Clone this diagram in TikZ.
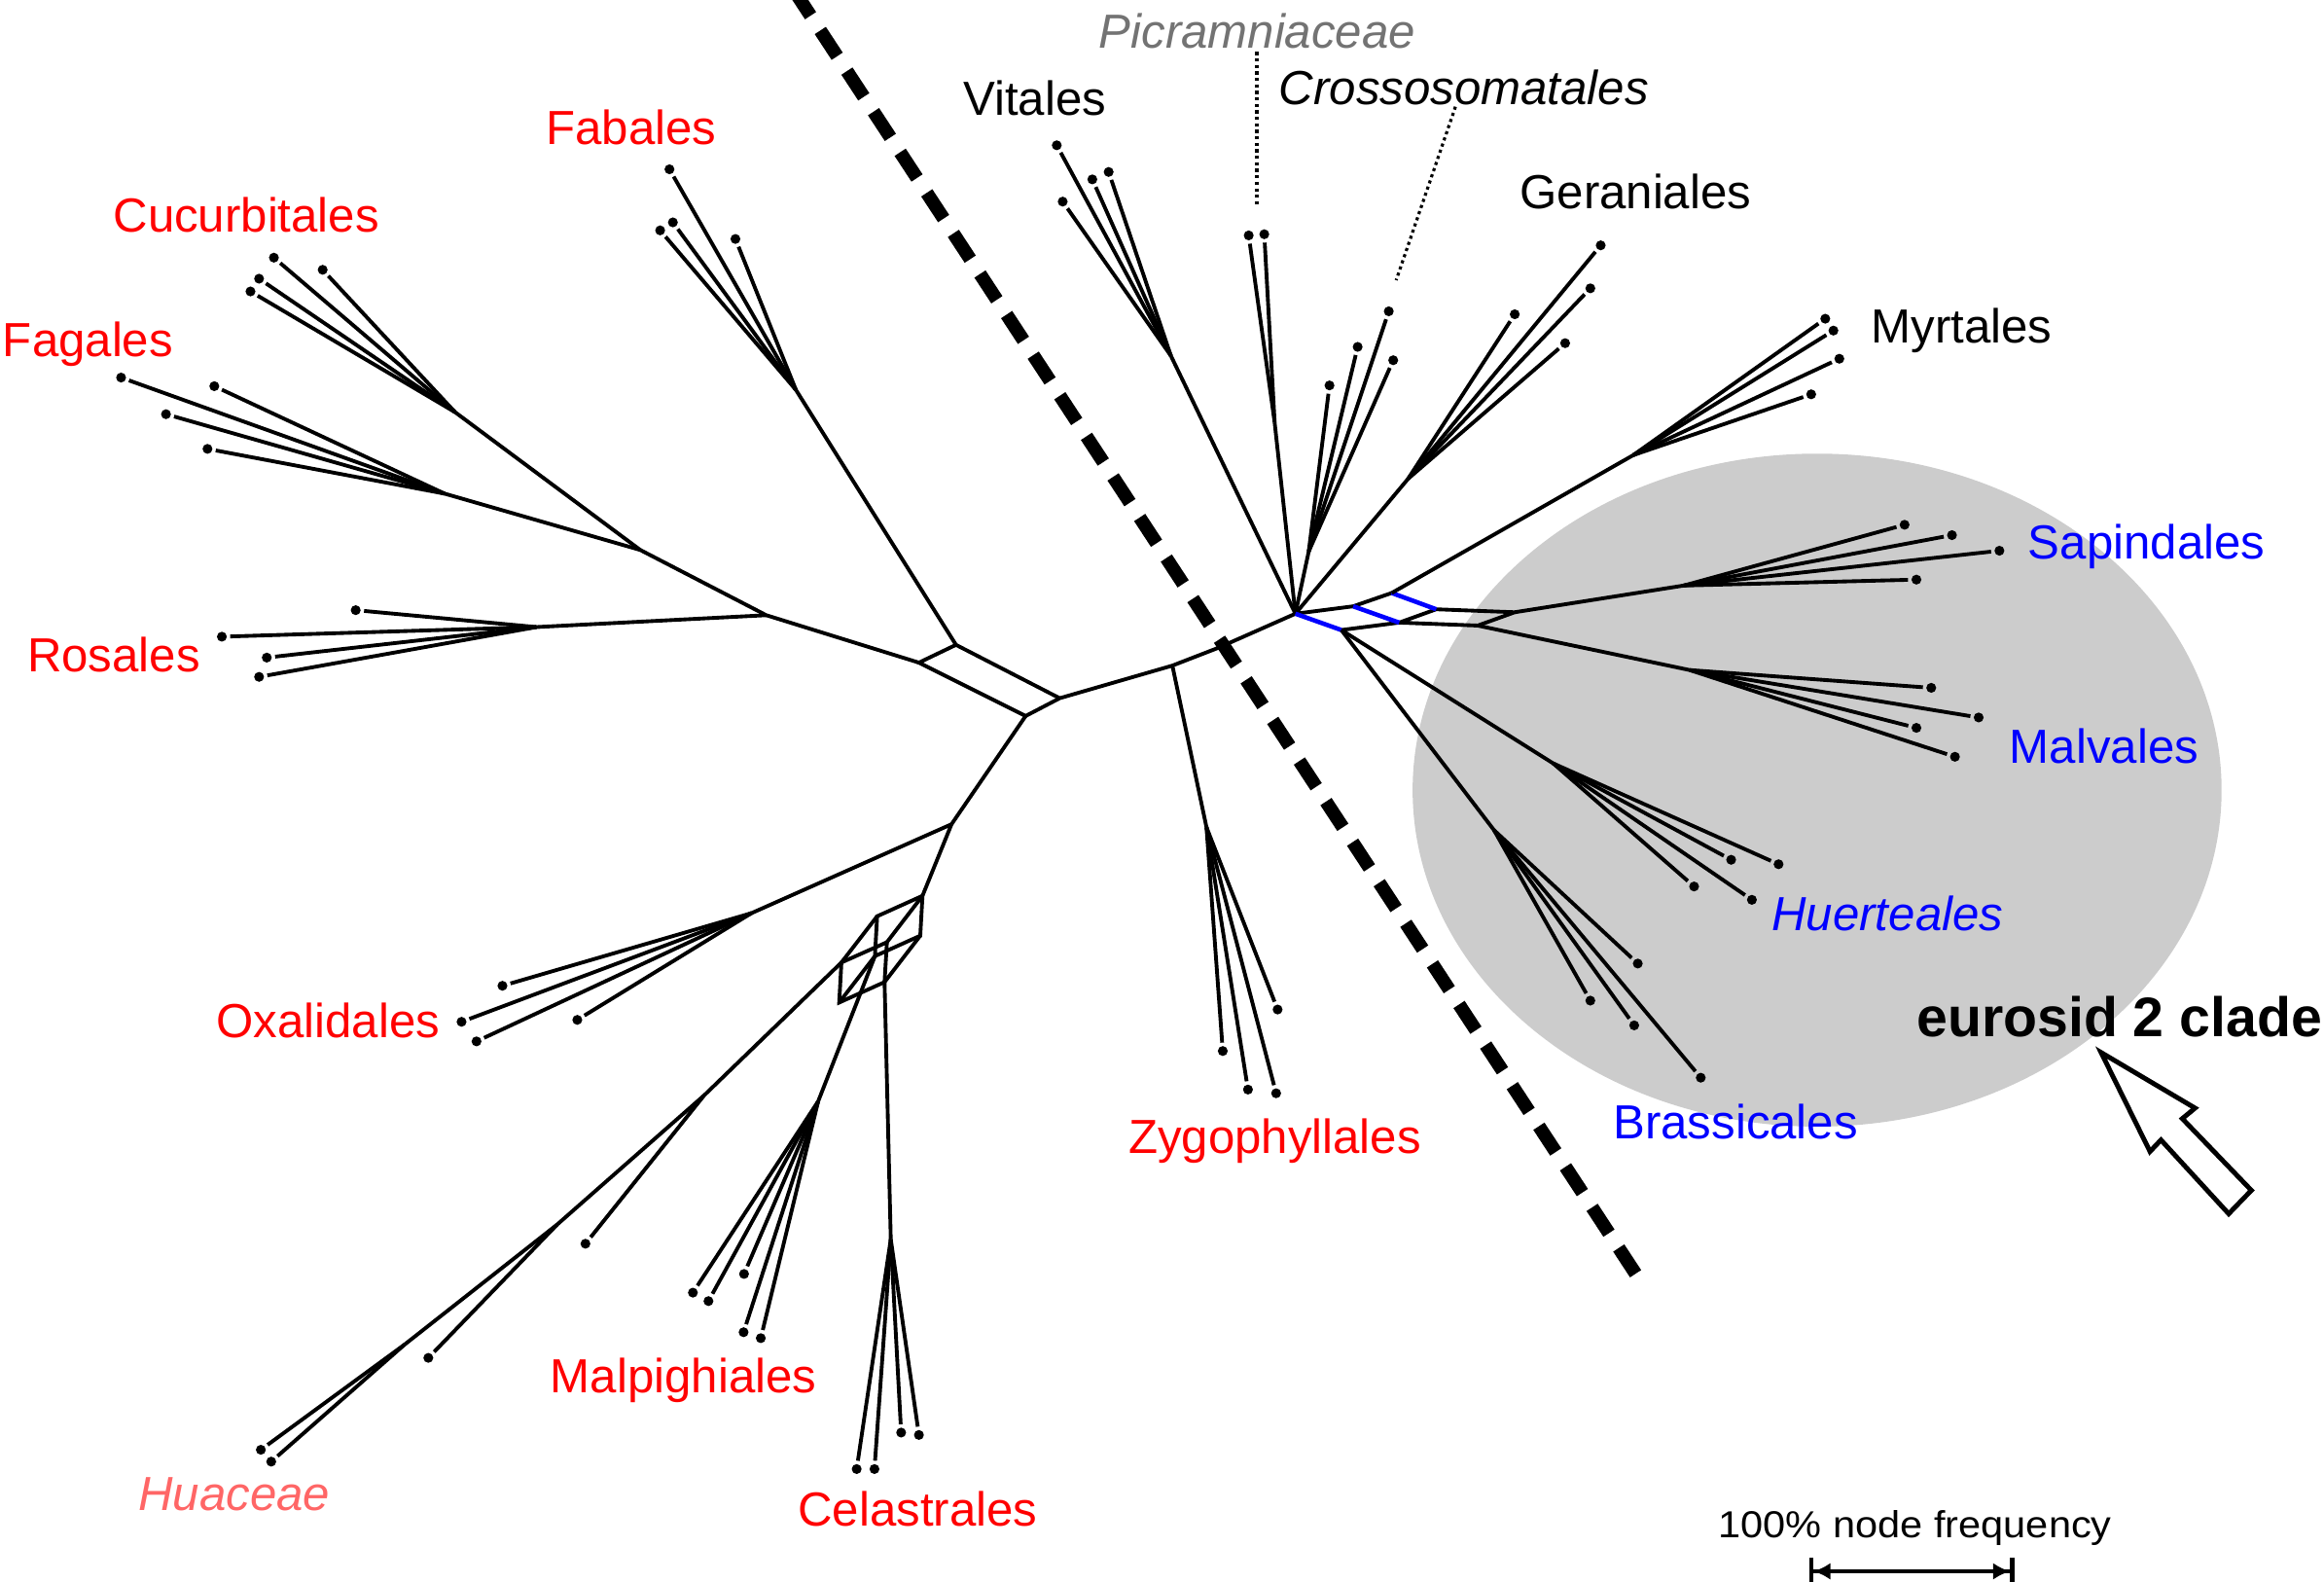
\documentclass[tikz,border=0pt]{standalone}
\usepackage{fontspec}
\setmainfont{Liberation Sans}
\usetikzlibrary{arrows.meta}

\tikzset{
  branch/.style={line width=1.1pt},
  twig/.style={line width=1.1pt,shorten >=0.8pt},
  splitline/.style={blue,line width=1.3pt},
  leaf/.style={circle,fill=black,inner sep=0pt,minimum size=2.9pt},
  taxon/.style={anchor=base west,inner sep=0pt,font=\fontsize{14}{16}\selectfont},
  taxonit/.style={taxon,font=\fontsize{14}{16}\selectfont\itshape},
  leader/.style={densely dotted,line width=0.9pt},
}

\begin{document}
\begin{tikzpicture}[x=0.015236cm,y=-0.015239cm]
    \useasboundingbox (0,0) rectangle (1568,1067);

    % eurosid 2 clade
    \fill[black!20] (1226,533) ellipse [x radius=4.16cm, y radius=3.46cm];

    % dividing line
    \coordinate (cutTop) at (535.5,-6.8);
    \coordinate (cutEnd) at (1106,863);
    \draw[line width=3.9pt,dash pattern=on 9pt off 5.2pt] (cutTop) -- (cutEnd);

    % backbone
    \coordinate (j1) at (692,483);
    \coordinate (j2) at (715,471);
    \coordinate (j3) at (791,449);
    \coordinate (k) at (822,437);
    \coordinate (hub) at (874,414);
    \coordinate (b1) at (645,435);
    \coordinate (b2) at (620,447);
    \coordinate (l1) at (517,415);
    \coordinate (l2) at (432,371);
    \coordinate (j4) at (642,556);
    \draw[branch] (j1) -- (j2) -- (j3) -- (k) -- (hub);
    \draw[branch] (j1) -- (b2) -- (b1) -- (j2);
    \draw[branch] (b2) -- (l1) -- (l2);
    \draw[branch] (j1) -- (j4);

    % left clades
    \coordinate (ros) at (362,423);
    \coordinate (fag) at (300,333);
    \coordinate (cuc) at (307,278);
    \coordinate (fab) at (537,263);
    \coordinate (oxa) at (507,616);
    \draw[branch] (l1) -- (ros);
    \draw[branch] (l2) -- (fag);
    \draw[branch] (l2) -- (cuc);
    \draw[branch] (b1) -- (fab);
    \draw[branch] (j4) -- (oxa);
    \foreach \x/\y [count=\i] in {240/411.6,149.7/429.5,180/443.6,174.8/456.6} {
        \node[leaf] (ros\i) at (\x,\y) {};
        \draw[twig] (ros) -- (ros\i);
    }
    \foreach \x/\y [count=\i] in {81.7/254.7,144.6/260.5,112/279.4,140/302.8} {
        \node[leaf] (fag\i) at (\x,\y) {};
        \draw[twig] (fag) -- (fag\i);
    }
    \foreach \x/\y [count=\i] in {184.8/173.8,217.7/182,174.8/188,169/196.6} {
        \node[leaf] (cuc\i) at (\x,\y) {};
        \draw[twig] (cuc) -- (cuc\i);
    }
    \foreach \x/\y [count=\i] in {451.7/114.2,445.4/155.4,454/150,496.2/161.2} {
        \node[leaf] (fab\i) at (\x,\y) {};
        \draw[twig] (fab) -- (fab\i);
    }
    \foreach \x/\y [count=\i] in {339/665,311.4/689.3,321.5/702.5,389.5/688} {
        \node[leaf] (oxa\i) at (\x,\y) {};
        \draw[twig] (oxa) -- (oxa\i);
    }

    % box of conflicting splits
    \coordinate (q0) at (622.4,604.3);
    \coordinate (qa) at (591.8,618.1);
    \coordinate (qb) at (620.9,631.2);
    \coordinate (qc) at (598.4,635.6);
    \coordinate (qab) at (590.3,645.0);
    \coordinate (qac) at (567.7,649.3);
    \coordinate (qbc) at (596.8,662.5);
    \coordinate (qabc) at (566.2,676.3);
    \draw[branch] (j4) -- (q0);
    \draw[branch] (q0) -- (qa) -- (qab) -- (qb) -- cycle;
    \draw[branch] (qc) -- (qac) -- (qabc) -- (qbc) -- cycle;
    \draw[branch] (q0) -- (qc) (qa) -- (qac) (qb) -- (qbc) (qab) -- (qabc);

    % Malpighiales, Celastrales, Huaceae
    \coordinate (mal) at (552,743);
    \coordinate (cel) at (601,836);
    \coordinate (hua1) at (475,739);
    \coordinate (hua2) at (376,826);
    \coordinate (hua3) at (273,907);
    \draw[branch] (qab) -- (mal);
    \draw[branch] (qbc) -- (cel);
    \draw[branch] (qac) -- (hua1) -- (hua2) -- (hua3);
    \foreach \x/\y [count=\i] in {467.5/872,478/877.7,502/859.4,501.7/898.7,513.3/902.7} {
        \node[leaf] (mal\i) at (\x,\y) {};
        \draw[twig] (mal) -- (mal\i);
    }
    \foreach \x/\y [count=\i] in {578/991,590/991,608/966.4,620/968} {
        \node[leaf] (cel\i) at (\x,\y) {};
        \draw[twig] (cel) -- (cel\i);
    }
    \node[leaf] (hua4) at (395,839) {};
    \node[leaf] (hua5) at (289,916) {};
    \node[leaf] (hua6) at (176,978) {};
    \node[leaf] (hua7) at (183,986) {};
    \draw[twig] (hua1) -- (hua4);
    \draw[twig] (hua2) -- (hua5);
    \draw[twig] (hua3) -- (hua6);
    \draw[twig] (hua3) -- (hua7);

    % Zygophyllales
    \coordinate (zyg) at (814,558);
    \draw[branch] (j3) -- (zyg);
    \foreach \x/\y [count=\i] in {825/709,842/735,861/737.5,862/681} {
        \node[leaf] (zyg\i) at (\x,\y) {};
        \draw[twig] (zyg) -- (zyg\i);
    }

    % right clades
    \coordinate (vit) at (790,240);
    \coordinate (pic) at (860,285);
    \coordinate (cro) at (883,372);
    \coordinate (ger) at (950,323);
    \draw[branch] (hub) -- (vit);
    \draw[branch] (hub) -- (pic);
    \draw[branch] (hub) -- (cro);
    \draw[branch] (hub) -- (ger);
    \foreach \x/\y [count=\i] in {713/98,737/121,748/116,717/136} {
        \node[leaf] (vit\i) at (\x,\y) {};
        \draw[twig] (vit) -- (vit\i);
    }
    \foreach \x/\y [count=\i] in {842.5/158.8,853/158} {
        \node[leaf] (pic\i) at (\x,\y) {};
        \draw[twig] (pic) -- (pic\i);
    }
    \foreach \x/\y [count=\i] in {897/260,916/234,937/210,940/243} {
        \node[leaf] (cro\i) at (\x,\y) {};
        \draw[twig] (cro) -- (cro\i);
    }
    \foreach \x/\y [count=\i] in {1080/165.5,1073/194.5,1056/231.5,1022/212} {
        \node[leaf] (ger\i) at (\x,\y) {};
        \draw[twig] (ger) -- (ger\i);
    }

    % splits near the eurosid 2 clade
    \coordinate (n1) at (913,409);
    \coordinate (n2) at (939,400);
    \coordinate (n3) at (905,425);
    \coordinate (n4) at (944,420);
    \coordinate (n5) at (969,411);
    \coordinate (ms) at (997,422);
    \coordinate (ss) at (1022,413);
    \draw[branch] (hub) -- (n1) -- (n2);
    \draw[branch] (n3) -- (n4) -- (n5) -- (ss) -- (ms) -- (n4);
    \draw[splitline] (hub) -- (n3);
    \draw[splitline] (n1) -- (n4);
    \draw[splitline] (n2) -- (n5);

    \coordinate (myr) at (1102,307);
    \coordinate (sap) at (1136,395);
    \coordinate (mlv) at (1140,452);
    \coordinate (hue) at (1048,515);
    \coordinate (bra) at (1008,560);
    \draw[branch] (n2) -- (myr);
    \draw[branch] (ss) -- (sap);
    \draw[branch] (ms) -- (mlv);
    \draw[branch] (n3) -- (hue);
    \draw[branch] (n3) -- (bra);
    \foreach \x/\y [count=\i] in {1231.5/215,1237/223,1241/242,1222/266} {
        \node[leaf] (myr\i) at (\x,\y) {};
        \draw[twig] (myr) -- (myr\i);
    }
    \foreach \x/\y [count=\i] in {1285/354,1317/361,1349/371.5,1293/391} {
        \node[leaf] (sap\i) at (\x,\y) {};
        \draw[twig] (sap) -- (sap\i);
    }
    \foreach \x/\y [count=\i] in {1303/464,1335/484,1293/491,1319/510.5} {
        \node[leaf] (mlv\i) at (\x,\y) {};
        \draw[twig] (mlv) -- (mlv\i);
    }
    \foreach \x/\y [count=\i] in {1168/580,1200/583,1143/598,1182/607} {
        \node[leaf] (hue\i) at (\x,\y) {};
        \draw[twig] (hue) -- (hue\i);
    }
    \foreach \x/\y [count=\i] in {1105/650,1073/675,1102.6/691.7,1147.5/727} {
        \node[leaf] (bra\i) at (\x,\y) {};
        \draw[twig] (bra) -- (bra\i);
    }

    % order labels
    \node[taxon,text=red] (fabLab) at (368,97.6) {Fabales};
    \node[taxon,text=red] (cucLab) at (76,156.7) {Cucurbitales};
    \node[taxon,text=red] (fagLab) at (1.5,240.4) {Fagales};
    \node[taxon,text=red] (rosLab) at (18,452.9) {Rosales};
    \node[taxon,text=red] (oxaLab) at (145.5,699.8) {Oxalidales};
    \node[taxonit,text=red!60] (huaLab) at (93,1018.8) {Huaceae};
    \node[taxon,text=red] (malLab) at (371,939.4) {Malpighiales};
    \node[taxon,text=red] (celLab) at (538,1029.4) {Celastrales};
    \node[taxon,text=red] (zygLab) at (761,778.4) {Zygophyllales};
    \node[taxon,text=blue] (braLab) at (1088,768.5) {Brassicales};
    \node[taxonit,text=blue] (hueLab) at (1195,628) {Huerteales};
    \node[taxon,text=blue] (mlvLab) at (1355.5,515.1) {Malvales};
    \node[taxon,text=blue] (sapLab) at (1368,377.1) {Sapindales};
    \node[taxon] (myrLab) at (1262,231.5) {Myrtales};
    \node[taxon] (gerLab) at (1025,141) {Geraniales};
    \node[taxon] (vitLab) at (649.6,77.6) {Vitales};
    \node[taxonit,text=black!55] (picLab) at (741,32.2) {Picramniaceae};
    \node[taxonit] (croLab) at (862.6,70.3) {Crossosomatales};

    % leaders
    \coordinate (picTop) at (848,35);
    \coordinate (picEnd) at (848,138);
    \coordinate (croTop) at (982,72);
    \coordinate (croEnd) at (942,189);
    \draw[leader] (picTop) -- (picEnd);
    \draw[leader] (croTop) -- (croEnd);

    % clade marker
    \node[anchor=base west,inner sep=0pt,font=\fontsize{16.3}{19}\selectfont\bfseries] (cladeLab) at (1292.7,699.6) {eurosid 2 clade};
    \draw[line width=1.4pt,fill=white] (1417.6,710) -- (1481,747.5) -- (1472.4,754.6) -- (1519,803)
        -- (1503.7,818.8) -- (1458,769) -- (1450.6,776.8) -- cycle;

    % scale
    \node[anchor=base west,inner sep=0pt,xscale=1.075,font=\fontsize{11}{13}\selectfont] (barLab) at (1159,1037.6) {100\% node frequency};
    \coordinate (barL) at (1220.7,1060);
    \coordinate (barR) at (1359,1060);
    \draw[line width=1.2pt,{Bar[width=8pt]Latex[length=5pt,width=5pt]}-{Latex[length=5pt,width=5pt]Bar[width=8pt]}] (barL) -- (barR);
\end{tikzpicture}
\end{document}
